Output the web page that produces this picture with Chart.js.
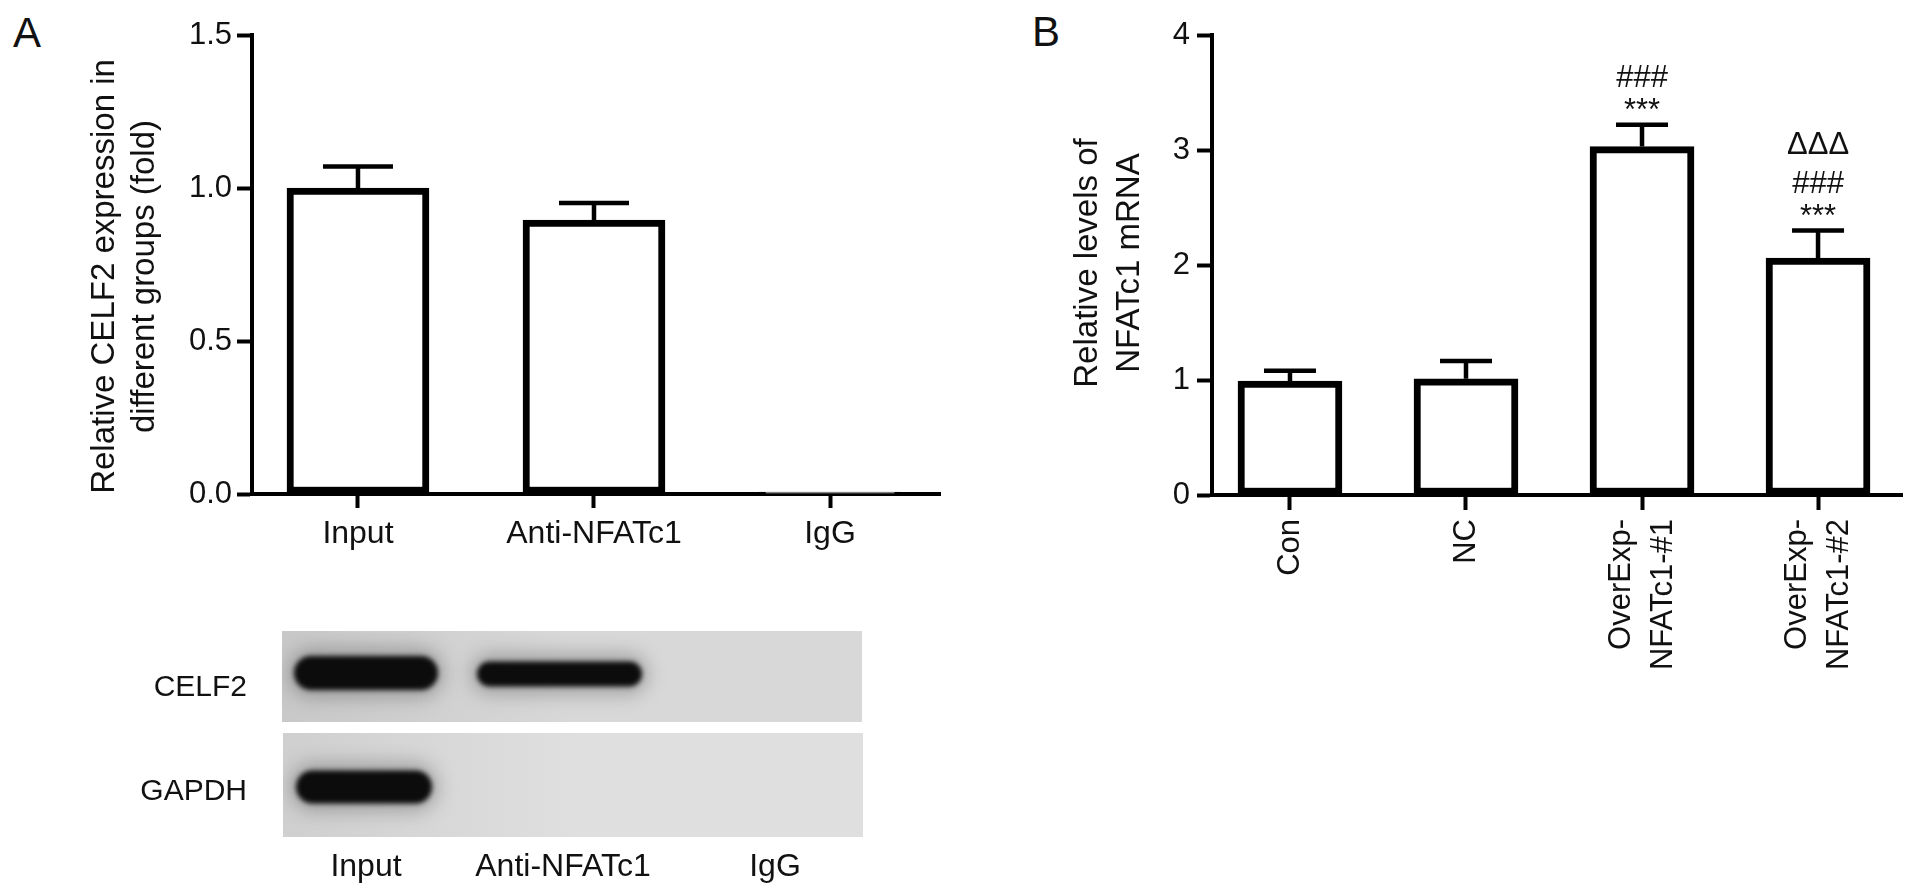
<!DOCTYPE html>
<html>
<head>
<meta charset="utf-8">
<title>CELF2 / NFATc1</title>
<script src="https://cdn.jsdelivr.net/npm/chart.js@4.4.1/dist/chart.umd.min.js"></script>
<style>
    html, body { margin: 0; padding: 0; background: #fff; }
    body { position: relative; width: 1913px; height: 894px; overflow: hidden;
           font-family: "Liberation Sans", Arial, sans-serif; color: #111; }
    .box { position: absolute; }
    .letter { position: absolute; font-size: 42px; line-height: 1; }
    .blotText { position: absolute; font-size: 30px; line-height: 1; white-space: nowrap; }
    .lane { font-size: 32px; }
</style>
</head>
<body>
<div class="letter" style="left:13px; top:12px">A</div>
<div class="letter" style="left:1032px; top:11px">B</div>

<div class="box" style="left:0; top:0; width:980px; height:600px"><canvas id="chartA"></canvas></div>
<div class="box" style="left:1000px; top:0; width:913px; height:894px"><canvas id="chartB"></canvas></div>

<canvas id="blot" class="box" width="980" height="294" style="left:0; top:600px"></canvas>

<script>
// panel A - CELF2 pulled down by anti-NFATc1
const groupsA = ['Input', 'Anti-NFATc1', 'IgG']
const meansA = [1.0, 0.895, 0.006]
const errorsA = [0.07, 0.056, 0]
const ticksA = [0, 0.5, 1.0, 1.5]
const titleA = ['Relative CELF2 expression in', 'different groups (fold)']

// panel B - NFATc1 over-expression
const groupsB = [['Con'], ['NC'], ['OverExp-', 'NFATc1-#1'], ['OverExp-', 'NFATc1-#2']]
const meansB = [0.99, 1.01, 3.03, 2.06]
const errorsB = [0.09, 0.155, 0.19, 0.24]
const marksB = [[], [], ['***', '###'], ['***', '###', 'ΔΔΔ']]
const ticksB = [0, 1, 2, 3, 4]
const titleB = ['Relative levels of', 'NFATc1 mRNA']

// western blot under panel A
const blotRows = ['CELF2', 'GAPDH']
const blotLanes = ['Input', 'Anti-NFATc1', 'IgG']

const FONT = '"Liberation Sans", Arial, sans-serif'
const INK = '#111'
const markLift = [5, 38, 77]

function errorBarPlugin(means, errors, capWidth, marks) {
    return {
        id: 'errorBars',
        afterDatasetsDraw(chart) {
            const ctx = chart.ctx
            const x = chart.scales.x
            const y = chart.scales.y
            ctx.save()
            ctx.strokeStyle = '#000'
            ctx.lineWidth = 4.5
            means.forEach((m, i) => {
                const px = x.getPixelForValue(i)
                const top = y.getPixelForValue(m + errors[i])
                if (errors[i] > 0) {
                    ctx.beginPath()
                    ctx.moveTo(px, y.getPixelForValue(m))
                    ctx.lineTo(px, top)
                    ctx.moveTo(px - capWidth / 2, top)
                    ctx.lineTo(px + capWidth / 2, top)
                    ctx.stroke()
                }
                if (marks && marks[i]) {
                    ctx.fillStyle = INK
                    ctx.font = '31px ' + FONT
                    ctx.textAlign = 'center'
                    ctx.textBaseline = 'alphabetic'
                    marks[i].forEach((txt, k) => ctx.fillText(txt, px, top - markLift[k]))
                }
            })
            ctx.restore()
        }
    }
}

// y axis title, two rotated lines, centred on the axis with a small shift
function sideTitle(lines, size, firstX, spacing, shiftY) {
    return {
        id: 'sideTitle',
        afterDraw(chart) {
            const ctx = chart.ctx
            const y = chart.scales.y
            const cy = (y.top + y.bottom) / 2 + shiftY
            ctx.save()
            ctx.font = size + 'px ' + FONT
            ctx.fillStyle = INK
            ctx.textAlign = 'center'
            ctx.textBaseline = 'middle'
            lines.forEach((line, k) => {
                ctx.save()
                ctx.translate(firstX + k * spacing, cy)
                ctx.rotate(-Math.PI / 2)
                ctx.fillText(line, 0, 0)
                ctx.restore()
            })
            ctx.restore()
        }
    }
}

// rotated, centred multi-line labels for panel B
const rotatedLabels = {
    id: 'rotatedLabels',
    afterDraw(chart) {
        const {ctx, chartArea} = chart
        const x = chart.scales.x
        ctx.save()
        ctx.font = '31px ' + FONT
        ctx.fillStyle = INK
        ctx.textAlign = 'right'
        ctx.textBaseline = 'middle'
        groupsB.forEach((lines, i) => {
            ctx.save()
            ctx.translate(x.getPixelForValue(i), chartArea.bottom + 24)
            ctx.rotate(-Math.PI / 2)
            lines.forEach((line, k) => ctx.fillText(line, 0, (k - (lines.length - 1) / 2) * 42))
            ctx.restore()
        })
        ctx.restore()
    }
}

const axisGrid = (len) => ({
    offset: false,
    drawOnChartArea: false,
    drawTicks: true,
    tickLength: len,
    tickWidth: 4,
    tickColor: '#000',
    color: '#000'
})
const axisBorder = { display: true, color: '#000', width: 4 }

new Chart(document.getElementById('chartA'), {
    type: 'bar',
    data: {
        datasets: [{
            data: meansA.map((v, i) => ({x: i, y: v})),
            backgroundColor: '#fff',
            borderColor: '#000',
            borderWidth: 7,
            borderSkipped: false,
            barThickness: 142
        }]
    },
    options: {
        responsive: true,
        maintainAspectRatio: false,
        animation: false,
        layout: { padding: { top: 35, right: 40, bottom: 0, left: 0 } },
        plugins: { legend: { display: false }, tooltip: { enabled: false } },
        scales: {
            x: {
                type: 'linear',
                min: -0.449,
                max: 2.466,
                offset: false,
                afterBuildTicks: s => { s.ticks = groupsA.map((_, i) => ({value: i})) },
                afterFit: s => { s.height = 106 },
                grid: axisGrid(14),
                border: axisBorder,
                ticks: {
                    autoSkip: false, maxRotation: 0, padding: 7, color: INK,
                    font: { size: 32, family: FONT },
                    callback: v => groupsA[v]
                }
            },
            y: {
                min: 0,
                max: 1.5,
                afterBuildTicks: s => { s.ticks = ticksA.map(v => ({value: v})) },
                afterFit: s => { s.width = 252 },
                grid: axisGrid(15),
                border: axisBorder,
                ticks: {
                    padding: 5, color: INK,
                    font: { size: 31, family: FONT },
                    callback: v => v.toFixed(1)
                }
            }
        }
    },
    plugins: [errorBarPlugin(meansA, errorsA, 70), sideTitle(titleA, 33, 105, 40, 12)]
})

new Chart(document.getElementById('chartB'), {
    type: 'bar',
    data: {
        datasets: [{
            data: meansB.map((v, i) => ({x: i, y: v})),
            backgroundColor: '#fff',
            borderColor: '#000',
            borderWidth: 7,
            borderSkipped: false,
            barThickness: 104
        }]
    },
    options: {
        responsive: true,
        maintainAspectRatio: false,
        animation: false,
        layout: { padding: { top: 35, right: 11, bottom: 0, left: 0 } },
        plugins: { legend: { display: false }, tooltip: { enabled: false } },
        scales: {
            x: {
                type: 'linear',
                min: -0.443,
                max: 3.477,
                offset: false,
                afterBuildTicks: s => { s.ticks = groupsB.map((_, i) => ({value: i})) },
                afterFit: s => { s.height = 399 },
                grid: axisGrid(15),
                border: axisBorder,
                ticks: { display: false }
            },
            y: {
                min: 0,
                max: 4,
                afterBuildTicks: s => { s.ticks = ticksB.map(v => ({value: v})) },
                afterFit: s => { s.width = 212 },
                grid: axisGrid(15),
                border: axisBorder,
                ticks: {
                    padding: 7, color: INK,
                    font: { size: 31, family: FONT },
                    callback: v => String(v)
                }
            }
        }
    },
    plugins: [errorBarPlugin(meansB, errorsB, 52, marksB), rotatedLabels, sideTitle(titleB, 33, 88, 42, -2)]
})

// blot picture: two grey strips with dark bands
function drawBlot() {
    const g = document.getElementById('blot').getContext('2d')
    const strips = [
        { x: 282, y: 31, w: 580, h: 91, c0: '#c8c8c8', c1: '#d8d8d8',
          bands: [[294, 438, 73, 34], [477, 642, 74, 25]] },
        { x: 283, y: 133, w: 580, h: 104, c0: '#cfcfcf', c1: '#dfdfdf',
          bands: [[296, 432, 187, 33]] }
    ]
    strips.forEach(s => {
        g.save()
        g.beginPath()
        g.rect(s.x, s.y, s.w, s.h)
        g.clip()
        const grad = g.createLinearGradient(s.x, 0, s.x + s.w, 0)
        grad.addColorStop(0, s.c0)
        grad.addColorStop(0.5, s.c1)
        grad.addColorStop(1, s.c1)
        g.fillStyle = grad
        g.fillRect(s.x, s.y, s.w, s.h)
        s.bands.forEach(([x0, x1, cy, h]) => {
            g.filter = 'blur(9px)'
            g.fillStyle = 'rgba(70,70,70,0.35)'
            g.beginPath()
            g.roundRect(x0 - 6, cy - h / 2 - 8, x1 - x0 + 12, h + 16, h / 2 + 8)
            g.fill()
            g.filter = 'blur(2.5px)'
            g.fillStyle = '#0c0c0c'
            g.beginPath()
            g.roundRect(x0, cy - h / 2, x1 - x0, h, h / 2)
            g.fill()
        })
        g.restore()
    })
}
drawBlot()

// blot labels as text
const rowTop = [671, 775]
blotRows.forEach((name, i) => {
    const d = document.createElement('div')
    d.className = 'blotText'
    d.style.left = '0px'
    d.style.width = '247px'
    d.style.textAlign = 'right'
    d.style.top = rowTop[i] + 'px'
    d.textContent = name
    document.body.appendChild(d)
})
const laneCenter = [366, 563, 775]
blotLanes.forEach((name, i) => {
    const d = document.createElement('div')
    d.className = 'blotText lane'
    d.style.left = (laneCenter[i] - 100) + 'px'
    d.style.width = '200px'
    d.style.textAlign = 'center'
    d.style.top = '849px'
    d.textContent = name
    document.body.appendChild(d)
})
</script>
</body>
</html>
